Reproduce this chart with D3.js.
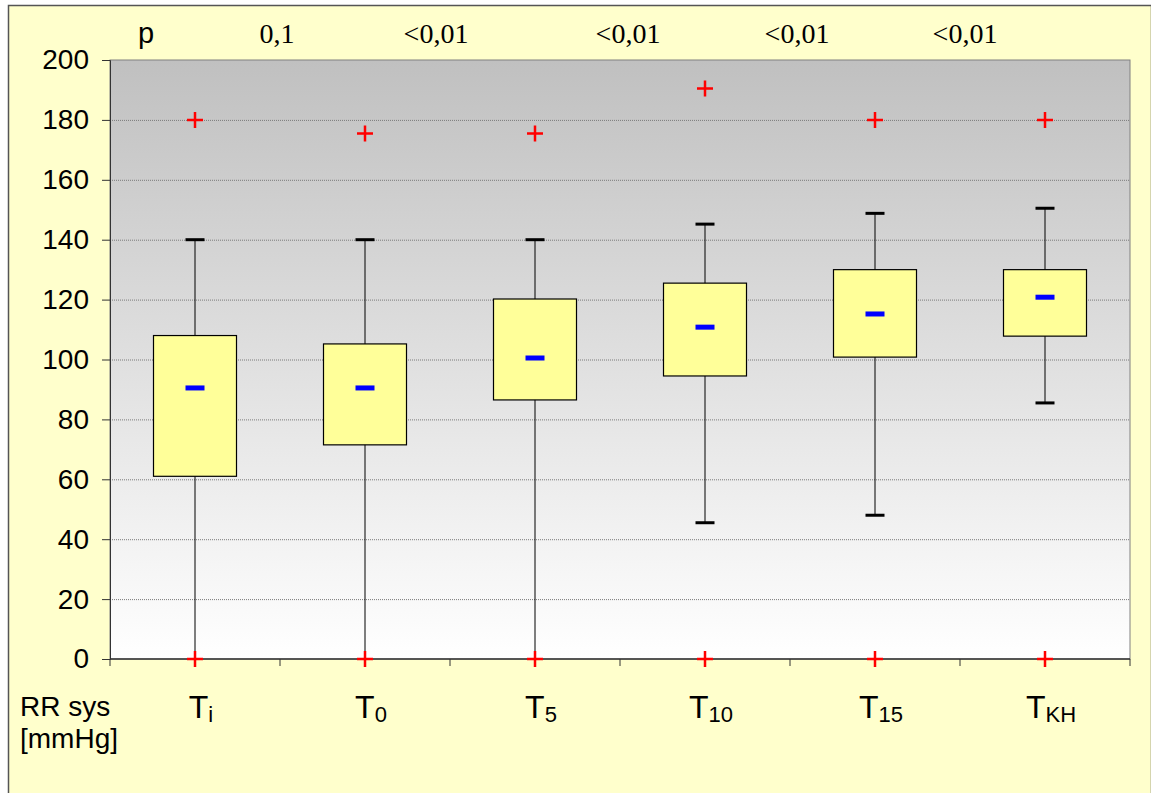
<!DOCTYPE html>
<html>
<head>
<meta charset="utf-8">
<script src="https://cdn.jsdelivr.net/npm/d3@7"></script>
<style>
  body { margin: 0; background: #fff; }
  svg text { font-family: Arial, "Liberation Sans", sans-serif; }
</style>
</head>
<body>
<svg id="chart" width="1151" height="793"></svg>
<script>
// groups and their subscripts
const groups = ["Ti", "T0", "T5", "T10", "T15", "TKH"];
const subs = ["i", "0", "5", "10", "15", "KH"];

// box statistics
const whiskerLow = [0, 0, 0, 45.5, 48, 85.5];
const q1 = [61, 71.5, 86.5, 94.5, 100.8, 107.8];
const median = [90.5, 90.5, 100.5, 110.8, 115.2, 120.8];
const q3 = [108, 105.2, 120.2, 125.5, 130, 130];
const whiskerHigh = [140, 140, 140, 145.2, 148.8, 150.5];
const maxMark = [180, 175.5, 175.5, 190.5, 180, 180];
const minMark = [0, 0, 0, 0, 0, 0];

// p-values between groups
const pLabels = ["0,1", "<0,01", "<0,01", "<0,01", "<0,01"];
const pX = [277, 436, 628, 797, 965];

const yTicks = d3.range(0, 201, 20);

const svg = d3.select("#chart");
const margin = {left: 110, right: 21, top: 60, bottom: 134};
const W = 1151, H = 793;

// outer frame
svg.append("rect")
    .attr("x", 8.5).attr("y", 5.5)
    .attr("width", W - 8).attr("height", H)
    .attr("fill", "#ffffcc")
    .attr("stroke", "#555")
    .attr("stroke-width", 1.5);

const x = d3.scaleBand()
    .domain(groups)
    .range([margin.left, W - margin.right]);

const y = d3.scaleLinear()
    .domain([0, 200])
    .range([H - margin.bottom, margin.top]);

const defs = svg.append("defs");
const grad = defs.append("linearGradient")
    .attr("id", "bg")
    .attr("x1", 0).attr("y1", 0).attr("x2", 0).attr("y2", 1);
grad.append("stop").attr("offset", "0%").attr("stop-color", "#c0c0c0");
grad.append("stop").attr("offset", "100%").attr("stop-color", "#ffffff");

svg.append("rect")
    .attr("x", margin.left).attr("y", y(200))
    .attr("width", x.range()[1] - margin.left)
    .attr("height", y(0) - y(200))
    .attr("fill", "url(#bg)")
    .attr("stroke", "#808080");

// grid
svg.append("g")
  .selectAll("line")
  .data(yTicks.filter(d => d > 0 && d < 200))
  .join("line")
    .attr("x1", margin.left).attr("x2", x.range()[1])
    .attr("y1", d => y(d) + 0.5).attr("y2", d => y(d) + 0.5)
    .attr("stroke", "#7a7a7a")
    .attr("stroke-dasharray", "1,1");

// y axis
const yAxis = svg.append("g")
    .attr("transform", `translate(${margin.left},0)`)
    .call(d3.axisLeft(y).tickValues(yTicks).tickSize(8).tickPadding(13));
yAxis.select(".domain").attr("stroke", "#333");
yAxis.selectAll(".tick line").attr("stroke", "#333");
yAxis.selectAll("text")
    .attr("font-size", 28)
    .attr("fill", "#000")
    .style("font-family", "Arial, 'Liberation Sans', sans-serif");

// x axis with ticks at band edges
const xAxis = svg.append("g")
    .attr("transform", `translate(0,${y(0)})`);
xAxis.append("line")
    .attr("x1", margin.left).attr("x2", x.range()[1])
    .attr("stroke", "#333").attr("stroke-width", 1.5);
xAxis.selectAll("line.tk")
  .data(groups.map(g => x(g)).concat([x.range()[1]]))
  .join("line")
    .attr("class", "tk")
    .attr("x1", d => d).attr("x2", d => d)
    .attr("y1", 0).attr("y2", 7)
    .attr("stroke", "#333");

// category labels
const lab = svg.append("g").selectAll("text")
  .data(groups)
  .join("text")
    .attr("x", d => x(d) + x.bandwidth() / 2 + 6)
    .attr("y", 718)
    .attr("text-anchor", "middle")
    .attr("font-size", 32);
lab.append("tspan").text("T");
lab.append("tspan")
    .attr("font-size", 22)
    .attr("dy", 4)
    .text((d, i) => subs[i]);

svg.append("text").attr("x", 20).attr("y", 716).attr("font-size", 28).text("RR sys");
svg.append("text").attr("x", 20).attr("y", 748).attr("font-size", 28).text("[mmHg]");

// p row
svg.append("text").attr("x", 138).attr("y", 43).attr("font-size", 29).text("p");
svg.append("g").selectAll("text")
  .data(pLabels)
  .join("text")
    .attr("x", (d, i) => pX[i])
    .attr("y", 43)
    .attr("text-anchor", "middle")
    .attr("font-size", 28)
    .style("font-family", "'Liberation Serif', 'Times New Roman', serif")
    .text(d => d);

// boxes
const boxW = 83, capW = 19;
const g = svg.append("g").selectAll("g")
  .data(groups)
  .join("g")
    .attr("transform", d => `translate(${x(d) + x.bandwidth() / 2},0)`);

g.append("line")
    .attr("y1", (d, i) => y(whiskerLow[i]))
    .attr("y2", (d, i) => y(whiskerHigh[i]))
    .attr("stroke", "#000");

g.append("line")
    .attr("x1", -capW / 2).attr("x2", capW / 2)
    .attr("y1", (d, i) => y(whiskerHigh[i])).attr("y2", (d, i) => y(whiskerHigh[i]))
    .attr("stroke", "#000").attr("stroke-width", 3);

g.filter((d, i) => whiskerLow[i] > 0).append("line")
    .attr("x1", -capW / 2).attr("x2", capW / 2)
    .attr("y1", d => y(whiskerLow[groups.indexOf(d)]))
    .attr("y2", d => y(whiskerLow[groups.indexOf(d)]))
    .attr("stroke", "#000").attr("stroke-width", 3);

g.append("rect")
    .attr("x", -boxW / 2)
    .attr("y", (d, i) => y(q3[i]))
    .attr("width", boxW)
    .attr("height", (d, i) => y(q1[i]) - y(q3[i]))
    .attr("fill", "#ffff99")
    .attr("stroke", "#000")
    .attr("stroke-width", 1.2);

g.append("rect")
    .attr("x", -9.5)
    .attr("y", (d, i) => y(median[i]) - 2.5)
    .attr("width", 19).attr("height", 5)
    .attr("fill", "#0000ff");

// min / max markers
function plus(sel, vals) {
  sel.append("path")
      .attr("d", "M-8,0H8M0,-8V8")
      .attr("transform", (d, i) => `translate(0,${y(vals[i])})`)
      .attr("stroke", "#ff0000")
      .attr("stroke-width", 2.5)
      .attr("fill", "none");
}
plus(g, maxMark);
plus(g, minMark);
</script>
</body>
</html>
